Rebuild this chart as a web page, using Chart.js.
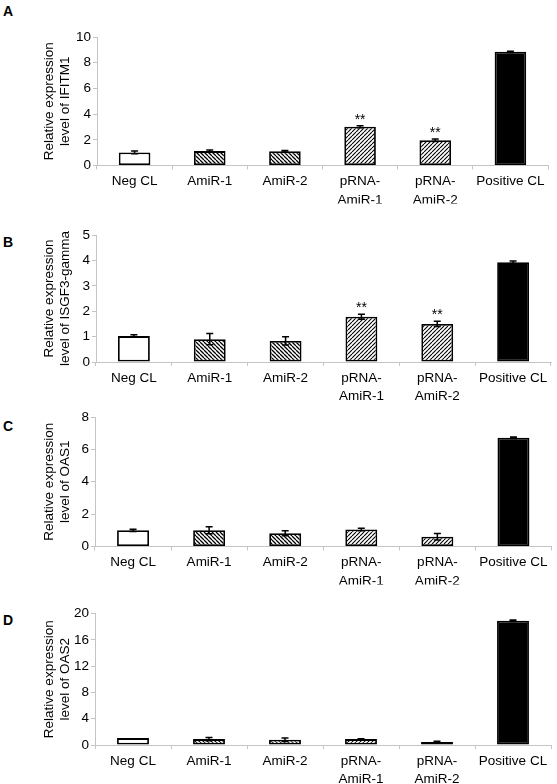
<!DOCTYPE html>
<html><head><meta charset="utf-8">
<script src="https://cdn.jsdelivr.net/npm/chart.js@4.4.1/dist/chart.umd.min.js"></script>
<style>
body{margin:0;background:#fff;width:557px;height:784px;position:relative;overflow:hidden;font-family:"Liberation Sans",Arial,sans-serif}
.panel{position:absolute;left:0;width:557px}
.lab{position:absolute;left:3px;font-weight:bold;font-size:14px;line-height:14px;color:#000}
canvas{display:block}
</style></head><body>
<div class="lab" style="top:4px">A</div>
<div class="lab" style="top:235px">B</div>
<div class="lab" style="top:419px">C</div>
<div class="lab" style="top:613px">D</div>
<div class="panel" style="top:0px"><canvas id="cA" width="557" height="210"></canvas></div>
<div class="panel" style="top:210px"><canvas id="cB" width="557" height="190"></canvas></div>
<div class="panel" style="top:400px"><canvas id="cC" width="557" height="190"></canvas></div>
<div class="panel" style="top:590px"><canvas id="cD" width="557" height="194"></canvas></div>
<script>
// ---- data ----
const categories = ['Neg CL', 'AmiR-1', 'AmiR-2', ['pRNA-', 'AmiR-1'], ['pRNA-', 'AmiR-2'], 'Positive CL'];

const ifitm1Values = [1.02, 1.12, 1.10, 3.02, 1.97, 8.85];
const ifitm1Errors = [0.10, 0.08, 0.06, 0.08, 0.10, 0.05];
const ifitm1Stars  = ['', '', '', '**', '**', ''];
const ifitm1Ticks  = [0, 2, 4, 6, 8, 10];
const ifitm1Title  = ['Relative expression', 'level of IFITM1'];

const isgf3Values = [1.02, 0.90, 0.83, 1.78, 1.50, 3.93];
const isgf3Errors = [0.05, 0.22, 0.16, 0.10, 0.10, 0.05];
const isgf3Stars  = ['', '', '', '**', '**', ''];
const isgf3Ticks  = [0, 1, 2, 3, 4, 5];
const isgf3Title  = ['Relative expression', 'level of ISGF3-gamma'];

const oas1Values = [1.00, 1.00, 0.82, 1.05, 0.60, 6.72];
const oas1Errors = [0.07, 0.22, 0.15, 0.07, 0.20, 0.05];
const oas1Stars  = ['', '', '', '', '', ''];
const oas1Ticks  = [0, 2, 4, 6, 8];
const oas1Title  = ['Relative expression', 'level of OAS1'];

const oas2Values = [1.05, 0.90, 0.80, 0.90, 0.45, 18.90];
const oas2Errors = [0.00, 0.25, 0.25, 0.05, 0.12, 0.10];
const oas2Stars  = ['', '', '', '', '', ''];
const oas2Ticks  = [0, 4, 8, 12, 16, 20];
const oas2Title  = ['Relative expression', 'level of OAS2'];

// ---- styling / layout ----
const FONT = '"Liberation Sans", Arial, sans-serif';
function hatch(dir, s, lw) {
  const c = document.createElement('canvas');
  c.width = s; c.height = s;
  const g = c.getContext('2d');
  g.fillStyle = '#fff'; g.fillRect(0, 0, s, s);
  g.strokeStyle = '#000'; g.lineWidth = lw;
  g.beginPath();
  for (let k = -1; k <= 1; k++) {
    if (dir === 'back') { g.moveTo(k * s, 0); g.lineTo(k * s + s, s); }
    else { g.moveTo(k * s, s); g.lineTo(k * s + s, 0); }
  }
  g.stroke();
  return g.createPattern(c, 'repeat');
}
const backHatch = hatch('back', 4, 1.3);
const fwdHatch = hatch('fwd', 4, 1.1);
const barFills = ['#ffffff', backHatch, backHatch, fwdHatch, fwdHatch, '#000000'];

const errorBarPlugin = {
  id: 'errorBars',
  afterDatasetsDraw(chart) {
    const ctx = chart.ctx, y = chart.scales.y;
    const ds = chart.data.datasets[0];
    const meta = chart.getDatasetMeta(0);
    ctx.save();
    ctx.strokeStyle = '#000'; ctx.fillStyle = '#000'; ctx.lineWidth = 1.5;
    meta.data.forEach((bar, i) => {
      const v = ds.data[i], e = ds.errors[i];
      const cx = bar.x;
      const yt = y.getPixelForValue(v + e), yb = y.getPixelForValue(v - e);
      if (e > 0) {
        ctx.beginPath();
        ctx.moveTo(cx, yt); ctx.lineTo(cx, yb);
        ctx.moveTo(cx - 3.5, yt); ctx.lineTo(cx + 3.5, yt);
        ctx.moveTo(cx - 3.5, yb); ctx.lineTo(cx + 3.5, yb);
        ctx.stroke();
      }
      if (ds.stars[i]) {
        ctx.font = '14px ' + FONT;
        ctx.textAlign = 'center'; ctx.textBaseline = 'alphabetic';
        ctx.fillText(ds.stars[i], cx, yt - 2);
      }
    });
    ctx.restore();
  }
};

function makePanel(id, values, errors, stars, ticks, title, lay) {
  const H = document.getElementById(id).height;
  const L = 35;
  return new Chart(document.getElementById(id), {
    type: 'bar',
    data: {
      labels: categories,
      datasets: [{
        data: values, errors: errors, stars: stars,
        backgroundColor: barFills, borderColor: '#000', borderWidth: 1.8,
        borderSkipped: false, categoryPercentage: 1, barPercentage: 0.42
      }]
    },
    plugins: [errorBarPlugin],
    options: {
      responsive: false, animation: false, devicePixelRatio: 1,
      layout: { padding: { left: L, top: lay.top, right: 557 - lay.right, bottom: H - lay.bottom - 38 } },
      plugins: { legend: { display: false }, tooltip: { enabled: false } },
      scales: {
        x: {
          afterFit: s => { s.height = 38; },
          border: { color: '#c4c4c4', width: 1 },
          grid: { drawOnChartArea: false, tickLength: 4, color: '#c4c4c4', offset: true },
          ticks: { font: { family: FONT, size: 13.5, lineHeight: 1.35 }, color: '#000', padding: 3, maxRotation: 0, autoSkip: false }
        },
        y: {
          min: ticks[0], max: ticks[ticks.length - 1],
          afterBuildTicks: s => { s.ticks = ticks.map(v => ({ value: v })); },
          afterFit: s => { s.width = lay.left - L; },
          border: { color: '#c4c4c4', width: 1 },
          grid: { drawOnChartArea: false, tickLength: 4, color: '#c4c4c4' },
          ticks: { font: { family: FONT, size: 13.5 }, color: '#000', padding: 2 },
          title: { display: true, text: title, color: '#000', font: { family: FONT, size: 13.5, lineHeight: 1.15 }, padding: { top: 7, bottom: 0 } }
        }
      }
    }
  });
}

makePanel('cA', ifitm1Values, ifitm1Errors, ifitm1Stars, ifitm1Ticks, ifitm1Title, { top: 37, bottom: 165.5, left: 97, right: 548 });
makePanel('cB', isgf3Values, isgf3Errors, isgf3Stars, isgf3Ticks, isgf3Title, { top: 25, bottom: 152, left: 96, right: 551 });
makePanel('cC', oas1Values, oas1Errors, oas1Stars, oas1Ticks, oas1Title, { top: 17, bottom: 146.5, left: 95, right: 551.5 });
makePanel('cD', oas2Values, oas2Errors, oas2Stars, oas2Ticks, oas2Title, { top: 23.5, bottom: 155, left: 95, right: 551 });
</script>
</body></html>
